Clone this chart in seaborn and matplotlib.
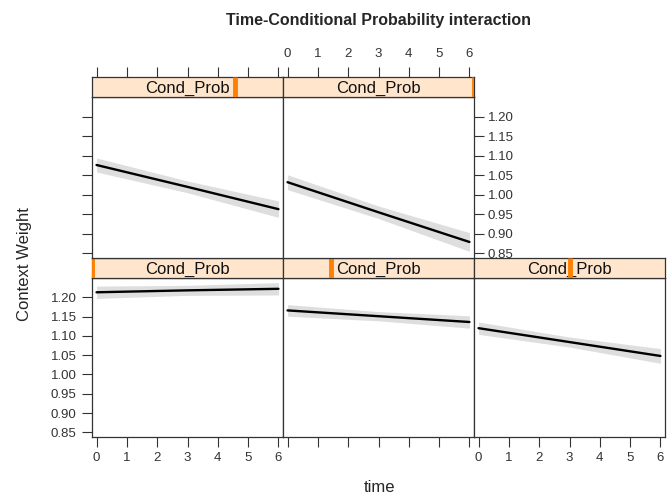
import seaborn as sns
import matplotlib.pyplot as plt
import pandas as pd

# effect of time at five levels of Cond_Prob (lattice order: bottom row first)
time = [0, 3, 6]
cond_prob = [0.0, 0.25, 0.50, 0.75, 1.0]
fit = [
    [1.213, 1.218, 1.222],
    [1.166, 1.151, 1.136],
    [1.120, 1.084, 1.048],
    [1.076, 1.020, 0.963],
    [1.032, 0.955, 0.879],
]
lower = [
    [1.197, 1.205, 1.206],
    [1.151, 1.139, 1.120],
    [1.104, 1.071, 1.029],
    [1.058, 1.005, 0.942],
    [1.013, 0.939, 0.855],
]
upper = [
    [1.229, 1.231, 1.238],
    [1.181, 1.163, 1.152],
    [1.136, 1.097, 1.067],
    [1.094, 1.035, 0.984],
    [1.051, 0.971, 0.903],
]
yticks = [0.85, 0.90, 0.95, 1.00, 1.05, 1.10, 1.15, 1.20]
xticks = [0, 1, 2, 3, 4, 5, 6]

sns.set_style('white')
plt.rcParams['font.family'] = ['Liberation Sans', 'DejaVu Sans']

W, H = 667, 497
fig = plt.figure(figsize=(W / 100, H / 100), dpi=100)

xlim = (-0.15, 6.15)
ylim = (0.838, 1.25)
tick_kw = dict(length=7, width=0.8, color='#333333', labelsize=9.5, labelcolor='#333333')

for i, cp in enumerate(cond_prob):
    row, col = divmod(i, 3)
    left = (92 + 191 * col) / W
    width = 191 / W
    if row == 0:
        pb, ph = (H - 437) / H, 159 / H
    else:
        pb, ph = (H - 258) / H, 161 / H
    sh = 20 / H

    ax = fig.add_axes([left, pb, width, ph])
    df = pd.DataFrame({'time': time, 'fit': fit[i]})
    ax.fill_between(time, lower[i], upper[i], color='#dedede', lw=0)
    sns.lineplot(data=df, x='time', y='fit', ax=ax, color='black', lw=1.7)
    ax.set_xlim(xlim)
    ax.set_ylim(ylim)
    ax.set_xlabel('')
    ax.set_ylabel('')
    for s in ax.spines.values():
        s.set_color('#333333')
        s.set_linewidth(0.9)

    sax = fig.add_axes([left, pb + ph, width, sh])
    sax.set_facecolor('#FFE5CC')
    sax.set_xlim(xlim)
    sax.set_ylim(0, 1)
    sax.set_yticks([])
    for s in sax.spines.values():
        s.set_color('#333333')
        s.set_linewidth(0.9)
    sax.text(0.5, 0.45, 'Cond_Prob', transform=sax.transAxes, ha='center', va='center',
             fontsize=12, color='#111111', zorder=3)
    sax.plot([cp, cp], [0, 1], transform=sax.transAxes, color='#FF7F00', lw=3.5,
             solid_capstyle='butt', zorder=4, clip_on=True)

    # x axis: bottom row ticks below, top row ticks above the strip
    ax.set_xticks(xticks)
    sax.set_xticks(xticks)
    if row == 0:
        sax.tick_params(axis='x', bottom=False, top=False, labelbottom=False)
        ax.tick_params(axis='x', bottom=True, labelbottom=(col != 1), pad=4, **tick_kw)
    else:
        ax.tick_params(axis='x', bottom=False, labelbottom=False)
        sax.tick_params(axis='x', bottom=False, labelbottom=False, top=True,
                        labeltop=(col == 1), pad=5, **tick_kw)

    # y axis: left column on the left, last panel of top row on the right
    ax.set_yticks(yticks)
    ax.set_yticklabels([f'{v:.2f}' for v in yticks])
    if col == 0:
        ax.tick_params(axis='y', left=True, labelleft=(row == 0), pad=4, **tick_kw)
    elif row == 1 and col == 1:
        ax.tick_params(axis='y', left=False, labelleft=False, right=True,
                       labelright=True, pad=3, **tick_kw)
    else:
        ax.tick_params(axis='y', left=False, labelleft=False)

fig.text(379 / W, 1 - 20 / H, 'Time-Conditional Probability interaction',
         ha='center', va='center', fontsize=11.5, fontweight='bold')
fig.text(379 / W, 1 - 487 / H, 'time', ha='center', va='center', fontsize=12)
fig.text(25 / W, 1 - 264 / H, 'Context Weight', ha='center', va='center',
         rotation=90, fontsize=12)

fig.savefig('out.png', dpi=100)
